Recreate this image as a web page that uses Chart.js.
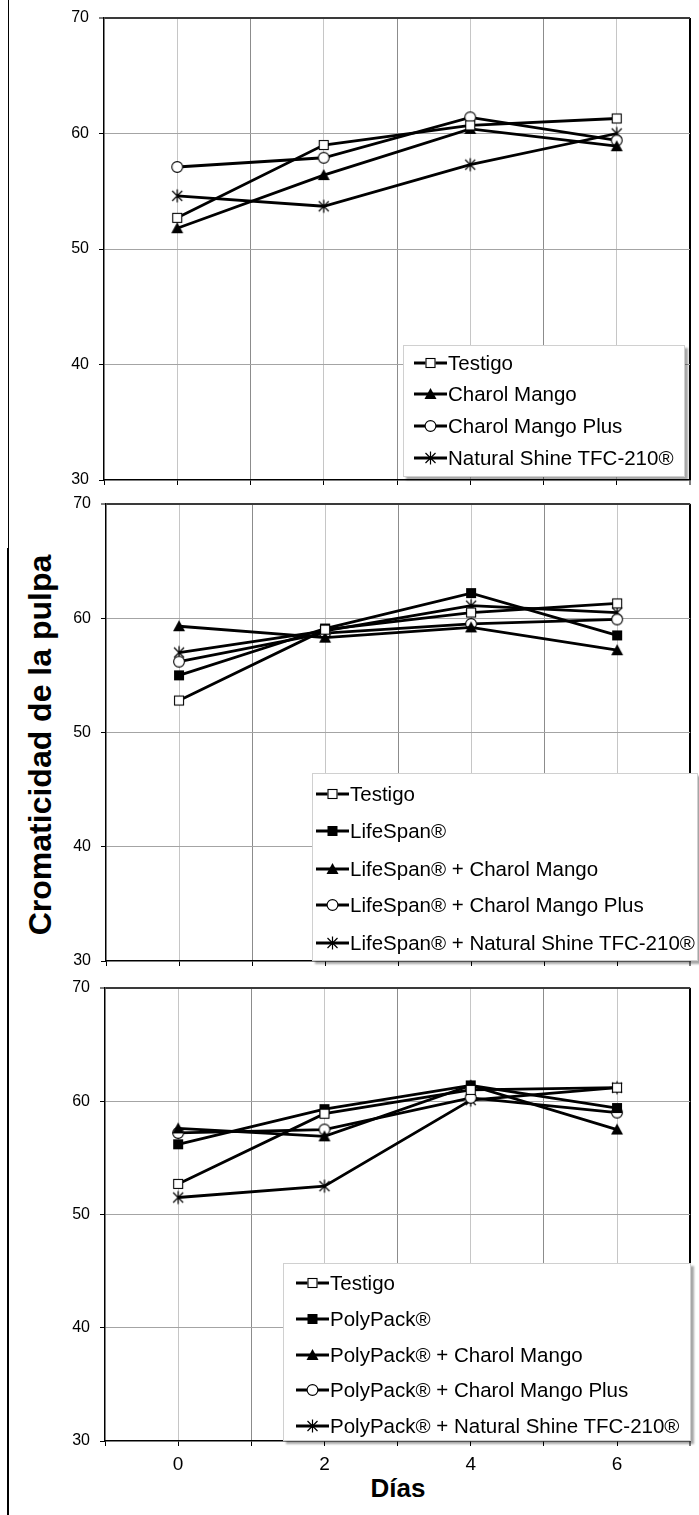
<!DOCTYPE html>
<html><head><meta charset="utf-8">
<script src="https://cdn.jsdelivr.net/npm/chart.js@4.4.0/dist/chart.umd.min.js"></script>
<style>
html,body{margin:0;padding:0;background:#fff;}
#page{position:relative;width:699px;height:1515px;overflow:hidden;font-family:"Liberation Sans",Arial,sans-serif;color:#000;}
.panel{position:absolute;left:0;width:699px;}
.panel canvas{display:block;}
.legend{position:absolute;background:#fff;border:1px solid #d0d0d0;box-shadow:3px 3px 2px rgba(0,0,0,0.35);box-sizing:border-box;z-index:5;}
.row{position:absolute;display:flex;align-items:center;font-size:20.5px;line-height:22px;white-space:nowrap;transform:translateY(-50%);}
.row canvas{display:block;}
.ytitle{position:absolute;left:40px;top:745px;transform:translate(-50%,-50%) rotate(-90deg);font-weight:bold;font-size:32px;white-space:nowrap;}
.xtitle{position:absolute;left:398px;top:1488px;transform:translate(-50%,-50%);font-weight:bold;font-size:26px;white-space:nowrap;}
.vline{position:absolute;background:#000;}
</style>
</head><body>
<div id="page">
  <div class="vline" style="left:8px;top:0;width:1px;height:548px;"></div>
  <div class="vline" style="left:7px;top:548px;width:2px;height:967px;"></div>
  <div class="ytitle">Cromaticidad de la pulpa</div>
  <div class="xtitle">Días</div>
</div>
<script>
// ---- data ----
const days = [0, 2, 4, 6];
const xTickLabels = ['0', '2', '4', '6'];
const yTicks = [30, 40, 50, 60, 70];

const p1Labels = ['Testigo', 'Charol Mango', 'Charol Mango Plus', 'Natural Shine TFC-210®'];
const p1Testigo = [52.7, 59.0, 60.7, 61.3];
const p1CharolMango = [51.8, 56.4, 60.4, 58.9];
const p1CharolMangoPlus = [57.1, 57.9, 61.4, 59.4];
const p1NaturalShine = [54.6, 53.7, 57.3, 60.0];

const p2Labels = ['Testigo', 'LifeSpan®', 'LifeSpan® + Charol Mango', 'LifeSpan® + Charol Mango Plus', 'LifeSpan® + Natural Shine TFC-210®'];
const p2Testigo = [52.8, 59.0, 60.5, 61.3];
const p2LifeSpan = [55.0, 59.1, 62.2, 58.5];
const p2LifeSpanCM = [59.3, 58.3, 59.2, 57.2];
const p2LifeSpanCMP = [56.2, 58.7, 59.5, 59.9];
const p2LifeSpanNS = [57.0, 58.9, 61.1, 60.5];

const p3Labels = ['Testigo', 'PolyPack®', 'PolyPack® + Charol Mango', 'PolyPack® + Charol Mango Plus', 'PolyPack® + Natural Shine TFC-210®'];
const p3Testigo = [52.7, 58.9, 61.0, 61.2];
const p3PolyPack = [56.2, 59.3, 61.4, 59.4];
const p3PolyPackCM = [57.6, 56.9, 61.4, 57.5];
const p3PolyPackCMP = [57.2, 57.5, 60.3, 59.0];
const p3PolyPackNS = [51.5, 52.5, 60.1, 61.2];

const p1Markers = ['openSquare', 'triangle', 'openCircle', 'star'];
const p23Markers = ['openSquare', 'filledSquare', 'triangle', 'openCircle', 'star'];

// ---- marker drawing ----
function drawMarker(ctx, type, cx, cy) {
  ctx.save();
  ctx.strokeStyle = '#000';
  ctx.fillStyle = '#000';
  ctx.lineWidth = 1.1;
  if (type === 'openSquare') {
    ctx.fillStyle = '#fff';
    ctx.fillRect(cx - 5, cy - 5, 10, 10);
    ctx.strokeRect(cx - 4.5, cy - 4.5, 9, 9);
  } else if (type === 'filledSquare') {
    ctx.fillRect(cx - 5, cy - 5, 10, 10);
  } else if (type === 'triangle') {
    ctx.beginPath();
    ctx.moveTo(cx, cy - 6);
    ctx.lineTo(cx + 6, cy + 5);
    ctx.lineTo(cx - 6, cy + 5);
    ctx.closePath();
    ctx.fill();
  } else if (type === 'openCircle') {
    ctx.beginPath();
    ctx.arc(cx, cy, 5.4, 0, Math.PI * 2);
    ctx.fillStyle = '#fff';
    ctx.fill();
    ctx.stroke();
  } else if (type === 'star') {
    ctx.lineWidth = 1.2;
    ctx.beginPath();
    ctx.moveTo(cx - 5, cy - 5); ctx.lineTo(cx + 5, cy + 5);
    ctx.moveTo(cx + 5, cy - 5); ctx.lineTo(cx - 5, cy + 5);
    ctx.moveTo(cx, cy - 6.5); ctx.lineTo(cx, cy + 6.5);
    ctx.stroke();
  }
  ctx.restore();
}
function markerCanvas(type) {
  const c = document.createElement('canvas');
  c.width = 16; c.height = 16;
  drawMarker(c.getContext('2d'), type, 8, 8);
  return c;
}

// ---- panels ----
const W = 699;
function buildPanel(cfg) {
  const page = document.getElementById('page');
  const padTop = 24;
  const plotH = cfg.B - cfg.T;
  const H = padTop + plotH + cfg.bottom;
  const div = document.createElement('div');
  div.className = 'panel';
  div.style.top = (cfg.T - padTop) + 'px';
  div.style.height = H + 'px';
  const cv = document.createElement('canvas');
  cv.width = W; cv.height = H;
  cv.style.width = W + 'px'; cv.style.height = H + 'px';
  div.appendChild(cv);
  page.appendChild(div);

  const datasets = cfg.series.map((vals, i) => ({
    label: cfg.labels[i],
    data: days.map((d, j) => ({ x: d, y: vals[j] })),
    borderColor: '#000',
    backgroundColor: '#000',
    borderWidth: 2.8,
    pointStyle: markerCanvas(cfg.markers[i]),
    pointRadius: 6,
    pointHoverRadius: 6,
    tension: 0,
    fill: false
  }));

  new Chart(cv, {
    type: 'line',
    data: { datasets },
    options: {
      responsive: false,
      maintainAspectRatio: false,
      animation: false,
      devicePixelRatio: 1,
      layout: { padding: { top: padTop, right: W - cfg.R, bottom: 0, left: 0 } },
      plugins: { legend: { display: false }, tooltip: { enabled: false } },
      events: [],
      scales: {
        x: {
          type: 'linear', min: -1, max: 7,
          afterFit: (s) => { s.height = cfg.bottom; },
          afterBuildTicks: (s) => {
            const t = [];
            for (let v = -1; v <= 7; v++) t.push({ value: v });
            s.ticks = t;
          },
          ticks: {
            autoSkip: false, maxRotation: 0, padding: 7,
            color: '#000',
            font: { family: 'Liberation Sans', size: 19 },
            callback: (v) => {
              if (!cfg.showX) return '';
              const k = days.indexOf(v);
              return k >= 0 ? xTickLabels[k] : '';
            }
          },
          grid: {
            color: (c) => {
              const v = c.tick ? c.tick.value : 0;
              if (v === -1) return 'rgba(0,0,0,0)';
              if (v === 7) return '#000';
              return (v % 2 === 0) ? '#c6c6c6' : '#8c8c8c';
            },
            lineWidth: (c) => (c.tick && c.tick.value === 7) ? 2 : 1,
            tickColor: '#000', tickWidth: 1, tickLength: 5, drawTicks: true
          },
          border: { color: '#000', width: 1.5 }
        },
        y: {
          type: 'linear', min: 30, max: 70,
          afterFit: (s) => { s.width = cfg.L; },
          afterBuildTicks: (s) => { s.ticks = yTicks.map(v => ({ value: v })); },
          ticks: {
            padding: 10, color: '#000',
            font: { family: 'Liberation Sans', size: 16 }
          },
          grid: {
            color: (c) => {
              const v = c.tick ? c.tick.value : 0;
              if (v === 70) return '#3a3a3a';
              if (v === 30) return 'rgba(0,0,0,0)';
              return '#a4a4a4';
            },
            lineWidth: (c) => (c.tick && c.tick.value === 70) ? 2 : 1,
            tickColor: '#000', tickWidth: 1, tickLength: 5, drawTicks: true
          },
          border: { color: '#000', width: 1.5 }
        }
      }
    }
  });

  // legend (HTML)
  const lg = document.createElement('div');
  lg.className = 'legend';
  lg.style.left = cfg.leg.x + 'px';
  lg.style.top = cfg.leg.y + 'px';
  lg.style.width = cfg.leg.w + 'px';
  lg.style.height = cfg.leg.h + 'px';
  cfg.labels.forEach((lab, i) => {
    const row = document.createElement('div');
    row.className = 'row';
    row.style.left = cfg.leg.sx + 'px';
    row.style.top = cfg.leg.rows[i] + 'px';
    const sc = document.createElement('canvas');
    sc.width = 33; sc.height = 16;
    const g = sc.getContext('2d');
    g.strokeStyle = '#000'; g.lineWidth = 2.8;
    g.beginPath(); g.moveTo(0, 8); g.lineTo(33, 8); g.stroke();
    drawMarker(g, cfg.markers[i], 16.5, 8);
    const sp = document.createElement('span');
    sp.textContent = lab;
    sp.style.marginLeft = '1px';
    row.appendChild(sc); row.appendChild(sp);
    lg.appendChild(row);
  });
  page.appendChild(lg);
}

buildPanel({
  T: 18, B: 480, L: 104, R: 690, bottom: 24, showX: false,
  labels: p1Labels, markers: p1Markers,
  series: [p1Testigo, p1CharolMango, p1CharolMangoPlus, p1NaturalShine],
  leg: { x: 403, y: 345, w: 282, h: 132, sx: 10, rows: [17, 48, 80, 112] }
});
buildPanel({
  T: 504, B: 961, L: 106, R: 693, bottom: 24, showX: false,
  labels: p2Labels, markers: p23Markers,
  series: [p2Testigo, p2LifeSpan, p2LifeSpanCM, p2LifeSpanCMP, p2LifeSpanNS],
  leg: { x: 312, y: 773, w: 386, h: 188, sx: 3, rows: [20, 57, 95, 131, 169] }
});
buildPanel({
  T: 988, B: 1441, L: 105, R: 691, bottom: 40, showX: true,
  labels: p3Labels, markers: p23Markers,
  series: [p3Testigo, p3PolyPack, p3PolyPackCM, p3PolyPackCMP, p3PolyPackNS],
  leg: { x: 283, y: 1263, w: 408, h: 178, sx: 12, rows: [19, 55, 91, 126, 162] }
});
</script>
</body></html>
